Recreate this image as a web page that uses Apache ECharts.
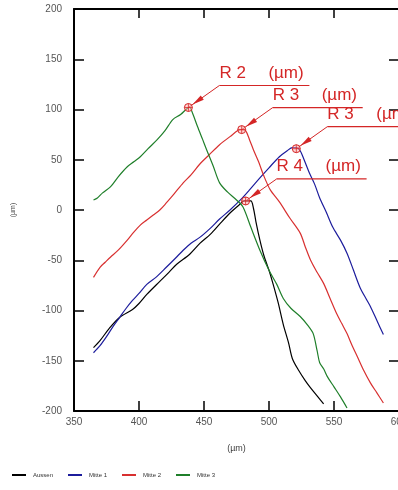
<!DOCTYPE html>
<html>
<head>
<meta charset="utf-8">
<script src="https://cdn.jsdelivr.net/npm/echarts@6/dist/echarts.min.js"></script>
<style>
html, body { margin: 0; padding: 0; background: #fff; }
#main { width: 398px; height: 490px; }
</style>
</head>
<body>
<div id="main"></div>
<script>
// Kurven (x in µm, y in µm)
let aussen = [[365,-137],[370,-130],[377,-118],[385,-107],[395,-99],[400,-93],[406,-84],[416,-71],[423,-62],[429,-54],[439,-44],[447,-33],[455,-24],[462,-14],[470,-3],[477,5],[481,9],[486,9],[488,2],[490,-12],[493,-30],[496,-45],[500,-60],[503,-73],[507,-92],[511,-114],[515,-132],[518,-148],[523,-160],[528,-170],[532,-177],[537,-185],[542,-193]]
let mitte1 = [[365,-142],[370,-135],[375,-126],[380,-116],[385,-107],[390,-98],[395,-90],[400,-83],[406,-74],[413,-67],[421,-57],[428,-48],[434,-40],[440,-33],[447,-27],[455,-18],[462,-9],[470,0],[478,10],[485,20],[493,32],[500,42],[508,53],[514,59],[518,62],[521,62],[524,59],[527,50],[531,37],[535,26],[539,12],[544,-2],[549,-17],[555,-30],[560,-43],[565,-60],[570,-77],[575,-89],[578,-96],[583,-110],[588,-124]]
let mitte2 = [[365,-67],[370,-57],[374,-52],[378,-47],[384,-40],[391,-30],[396,-22],[401,-15],[406,-10],[411,-5],[416,0],[421,7],[427,16],[434,27],[440,35],[447,46],[454,55],[462,65],[470,73],[476,79],[479,80],[482,79],[485,70],[488,60],[492,48],[496,34],[501,20],[508,8],[516,-8],[524,-23],[528,-37],[532,-50],[537,-62],[542,-73],[547,-88],[552,-103],[556,-113],[560,-123],[564,-135],[568,-146],[573,-160],[578,-172],[583,-182],[588,-192]]
let mitte3 = [[365,10],[368,12],[372,17],[378,23],[384,33],[391,43],[396,48],[401,53],[407,61],[414,70],[420,79],[426,90],[432,95],[437,101],[439,102],[441,97],[445,83],[449,70],[452,60],[457,44],[462,27],[468,18],[475,10],[480,3],[486,-17],[493,-40],[500,-60],[506,-74],[511,-88],[517,-98],[524,-106],[530,-115],[534,-123],[537,-140],[539,-152],[542,-158],[545,-166],[550,-176],[555,-186],[560,-197]]

let seriesNames = ['Aussen', 'Mitte 1', 'Mitte 2', 'Mitte 3']
let seriesColors = ['#000000', '#1c1c9c', '#d83030', '#1f7f2a']

// Markierungen an den Scheitelpunkten
let peakPoints = [[438, 102], [479, 80], [521, 61], [482, 9]]
let peakLabels = ['R 2', 'R 3', 'R 3', 'R 4']

let myChart

function renderPeak(params, api) {
	let p = api.coord([api.value(0), api.value(1)])
	let red = '#d42626'
	let ex = p[0] + 31, ey = p[1] - 22
	let len = Math.sqrt(31 * 31 + 22 * 22)
	let ux = 31 / len, uy = -22 / len
	let nx = -uy, ny = ux
	let tip = [p[0] + ux * 5, p[1] + uy * 5]
	let base = [p[0] + ux * 17, p[1] + uy * 17]
	let text = peakLabels[params.dataIndex]
	return {
		type: 'group',
		children: [
			{ type: 'line', shape: { x1: p[0], y1: p[1], x2: ex, y2: ey }, style: { stroke: red, lineWidth: 1 } },
			{ type: 'line', shape: { x1: ex, y1: ey, x2: ex + 90, y2: ey }, style: { stroke: red, lineWidth: 1.2 } },
			{ type: 'polygon', shape: { points: [tip, [base[0] + nx * 2.6, base[1] + ny * 2.6], [base[0] - nx * 2.6, base[1] - ny * 2.6]] }, style: { fill: red } },
			{ type: 'circle', shape: { cx: p[0], cy: p[1], r: 4 }, style: { fill: 'rgba(255,180,180,0.5)', stroke: red, lineWidth: 1 } },
			{ type: 'line', shape: { x1: p[0] - 4, y1: p[1], x2: p[0] + 4, y2: p[1] }, style: { stroke: red, lineWidth: 0.8 } },
			{ type: 'line', shape: { x1: p[0], y1: p[1] - 4, x2: p[0], y2: p[1] + 4 }, style: { stroke: red, lineWidth: 0.8 } },
			{ type: 'text', x: ex, y: ey - 4, style: { text: text, fill: red, font: '17px "Liberation Sans", Arial', textVerticalAlign: 'bottom' } },
			{ type: 'text', x: ex + 49, y: ey - 4, style: { text: '(µm)', fill: red, font: '17px "Liberation Sans", Arial', textVerticalAlign: 'bottom' } }
		]
	}
}

function init() {
	myChart = echarts.init(document.getElementById('main'), null, { renderer: 'canvas' })

	let lines = [aussen, mitte1, mitte2, mitte3]
	let series = []
	for (let i = 0; i < lines.length; i++) {
		series.push({
			name: seriesNames[i],
			type: 'line',
			data: lines[i],
			showSymbol: false,
			smooth: 0.3,
			lineStyle: { color: seriesColors[i], width: 1.2 },
			itemStyle: { color: seriesColors[i] },
			z: 2
		})
	}
	series.push({
		type: 'custom',
		renderItem: renderPeak,
		data: peakPoints,
		clip: false,
		silent: true,
		z: 5
	})

	let tickStyle = { show: true, inside: true, length: 10, lineStyle: { color: '#000', width: 1.5 } }
	let lineStyle = { show: true, onZero: false, lineStyle: { color: '#000', width: 2 } }

	let chartOption = {
		animation: false,
		backgroundColor: '#fff',
		grid: { left: 74, width: 325, top: 9, bottom: 79, outerBoundsMode: 'none', containLabel: false },
		legend: {
			left: 12,
			top: 472,
			padding: 0,
			itemWidth: 14,
			itemHeight: 2,
			itemGap: 15,
			icon: 'rect',
			data: seriesNames,
			textStyle: { fontSize: 6, color: '#333', fontFamily: 'Liberation Sans', padding: [0, 0, 0, 2] }
		},
		xAxis: [
			{
				type: 'value', min: 350, max: 600, interval: 50,
				name: '(µm)', nameLocation: 'middle', nameGap: 33,
				nameTextStyle: { fontSize: 9, color: '#444', fontFamily: 'Liberation Sans' },
				axisLine: lineStyle, axisTick: tickStyle, splitLine: { show: false },
				axisLabel: { fontSize: 10, color: '#555', margin: 6, fontFamily: 'Liberation Sans' }
			},
			{
				type: 'value', position: 'top', min: 350, max: 600, interval: 50,
				axisLine: lineStyle, axisTick: { show: true, inside: true, length: 9, lineStyle: { color: '#000', width: 1.5 } },
				splitLine: { show: false }, axisLabel: { show: false }
			}
		],
		yAxis: [
			{
				type: 'value', min: -200, max: 200, interval: 50,
				name: '(µm)', nameLocation: 'middle', nameGap: 57, nameRotate: 90,
				nameTextStyle: { fontSize: 7, color: '#444', fontFamily: 'Liberation Sans' },
				axisLine: lineStyle, axisTick: tickStyle, splitLine: { show: false },
				axisLabel: { fontSize: 10, color: '#555', margin: 12, fontFamily: 'Liberation Sans' }
			},
			{
				type: 'value', position: 'right', min: -200, max: 200, interval: 50,
				axisLine: lineStyle, axisTick: tickStyle, splitLine: { show: false },
				axisLabel: { show: false }
			}
		],
		series: series
	}

	myChart.setOption(chartOption)
}

init()
</script>
</body>
</html>
